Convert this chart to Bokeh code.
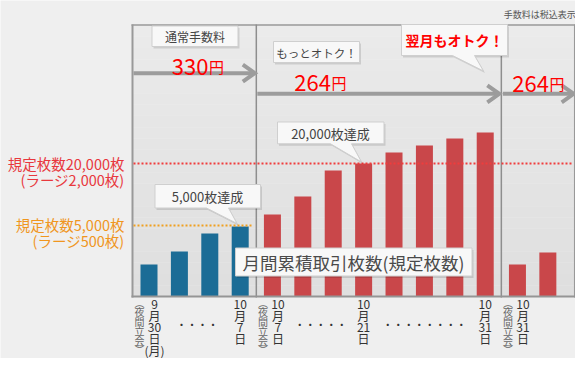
from bokeh.plotting import figure
from bokeh.models import Range1d, ColumnDataSource
from bokeh.core.properties import value
from bokeh.embed import file_html
from bokeh.resources import INLINE

# ---------------- data ----------------
# relative bar heights (chart is not to scale, as in the original)
normal_heights = [32, 45, 63, 70]                          # 9/30 night .. 10/7 day
discount_heights = [82, 100, 126, 133, 144, 151, 158, 164]  # 10/7 night .. 10/31
next_month_heights = [32, 44]                              # 10/31 night ..
level_5000 = 71
level_20000 = 133
label_5000 = ["規定枚数5,000枚", "(ラージ500枚)"]
label_20000 = ["規定枚数20,000枚", "(ラージ2,000枚)"]
period_titles = ["通常手数料", "もっとオトク！", "翌月もオトク！"]
period_prices = ["330", "264", "264"]
achieved_5000 = "5,000枚達成"
achieved_20000 = "20,000枚達成"
series_title = "月間累積取引枚数(規定枚数)"
tax_note = "手数料は税込表示"
tick_bars = [0, 3, 4, 7, 11, 12]
tick_dates = [["9", "月", "30", "日", "(月)"],
              ["10", "月", "7", "日"],
              ["10", "月", "7", "日"],
              ["10", "月", "21", "日"],
              ["10", "月", "31", "日"],
              ["10", "月", "31", "日"]]
tick_night = [True, False, True, False, False, True]
night_chars = ["︵", "夜", "間", "立", "会", "︶"]
ellipsis_after_tick = [0, 2, 3]
ellipsis_counts = [4, 5, 8]

FONT = value("Noto Sans CJK JP")

# ---------------- layout helpers (pixel -> data) ----------------
W, H = 575, 358
PX0, PXS, BASE = 148.5, 30.4, 296.0
def X(px): return (px - PX0) / PXS
def Y(py): return BASE - py
def PXx(x): return PX0 + x * PXS

groups = [normal_heights, discount_heights, next_month_heights]
xs, tops, colors = [], [], []
slot = 0
for g, vals in enumerate(groups):
    for v in vals:
        xs.append(slot + 0.06 * g)
        tops.append(v)
        colors.append("#1b6c96" if g == 0 else "#c9474a")
        slot += 1

div1 = (xs[len(normal_heights) - 1] + xs[len(normal_heights)]) / 2
n2 = len(normal_heights) + len(discount_heights)
div2 = (xs[n2 - 1] + xs[n2]) / 2

p = figure(width=W, height=H, output_backend="svg", toolbar_location=None,
           x_range=Range1d(X(0), X(W)), y_range=Range1d(Y(H), Y(0)),
           x_axis_type=None, y_axis_type=None, min_border=0)
p.background_fill_color = "#efefef"
p.border_fill_color = "#efefef"
p.outline_line_color = None
p.grid.visible = False

RB = 574.2  # right border
# plot area gradient
L, R, T, B = 132, RB, 25, 296
nb = 24
for i in range(nb):
    y0 = T + (B - T) * i / nb
    y1 = T + (B - T) * (i + 1) / nb
    c = int(235 - 12 * i / (nb - 1))
    p.quad(left=X(L), right=X(R), top=Y(y0), bottom=Y(y1) - 0.01,
           fill_color="#%02x%02x%02x" % (c, c, c), line_color=None)

# frame lines
frame_col = "#999999"
p.line([X(131), X(RB + 1)], [Y(24.5), Y(24.5)], line_color=frame_col, line_width=1.5)
p.line([X(132), X(132)], [Y(24), Y(297)], line_color=frame_col, line_width=2)
p.line([div1, div1], [Y(24), Y(297)], line_color="#8e8e8e", line_width=1.5)
p.line([div2, div2], [Y(24), Y(297)], line_color="#8e8e8e", line_width=1.5)
p.line([X(RB), X(RB)], [Y(24), Y(297)], line_color=frame_col, line_width=1.5)

# bars
src = ColumnDataSource(dict(x=xs, top=tops, color=colors))
p.vbar(x="x", top="top", bottom=0, width=17 / PXS, fill_color="color",
       line_color=None, source=src)

# baseline
p.line([X(131), X(RB + 1)], [0, 0], line_color="#959595", line_width=2)

# arrows
arrow_col = "#9c9c9c"
arrows = [(133, PXx(div1) - 1.5, 72.7), (PXx(div1) + 1, PXx(div2) - 2, 93.3),
          (PXx(div2) + 1.5, RB - 1, 93.3)]
for a0, a1, ay in arrows:
    p.line([X(a0), X(a1 - 2)], [Y(ay), Y(ay)], line_color=arrow_col, line_width=4)
    p.line([X(a1 - 12), X(a1), X(a1 - 12)], [Y(ay - 8.5), Y(ay), Y(ay + 8.5)],
           line_color=arrow_col, line_width=4, line_join="miter")

# threshold dotted lines
p.line([X(133), X(RB - 2)], [level_20000, level_20000], line_color="#f03c3c",
       line_width=2, line_dash="2 2")
p.line([X(133), X(253)], [level_5000, level_5000], line_color="#f0a020",
       line_width=2, line_dash="2 2")

# callout helper
def callout(x0, y0, x1, y1, tail=None, fill="#f8f8f8"):
    pts = [(x0, y0), (x1, y0), (x1, y1)]
    if tail:
        tl, tr, tx, ty = tail
        pts += [(tr, y1), (tx, ty), (tl, y1)]
    pts += [(x0, y1)]
    sx = [X(px + 1.5) for px, _ in pts]
    sy = [Y(py + 2) for _, py in pts]
    p.patch(sx, sy, fill_color="#000000", fill_alpha=0.12, line_color=None)
    p.patch([X(px) for px, _ in pts], [Y(py) for _, py in pts],
            fill_color=fill, line_color="#cfcfcf", line_width=1)

callout(151.5, 25.5, 237.5, 46)
callout(273, 41, 359, 62)
callout(401, 24, 507, 55, tail=(452, 474, 483, 70.5))
callout(154.5, 184, 260, 207.5, tail=(206, 228, 236.5, 223))
callout(277, 121.5, 383.5, 143.3, tail=(330, 351, 361, 161.5))
callout(235, 247.5, 471.5, 275.5)

def txt(x, y, s, size, color, align="center", baseline="middle", style="normal"):
    p.text(x=[X(x)], y=[Y(y)], text=[s], text_font=FONT, text_font_size=value(size),
           text_color=color, text_align=align, text_baseline=baseline,
           text_font_style=style)

# period titles & prices
txt(194.5, 36, period_titles[0], "12px", "#444444")
txt(316, 52, period_titles[1], "11.5px", "#444444")
txt(454, 39.5, period_titles[2], "14px", "#ff0000", style="bold")
price_pos = [(208, 66), (330.5, 82), (548.5, 83)]
for (px, py), s in zip(price_pos, period_prices):
    txt(px, py, s, "22px", "#ff0000", align="right", baseline="alphabetic")
    txt(px + 0.5, py, "円", "15px", "#ff0000", align="left", baseline="alphabetic")

txt(RB + 1, 14, tax_note, "9px", "#555555", align="right")

# threshold labels
lab_x = 124
txt(lab_x, BASE - level_20000, label_20000[0], "14.5px", "#e8383d", align="right")
txt(lab_x, BASE - level_20000 + 16, label_20000[1], "14.5px", "#e8383d", align="right")
txt(lab_x, BASE - level_5000 - 1.5, label_5000[0], "14.5px", "#f0961e", align="right")
txt(lab_x, BASE - level_5000 + 15, label_5000[1], "14.5px", "#f0961e", align="right")

# achievements & series title
txt(207, 196, achieved_5000, "13px", "#444444")
txt(330, 132.5, achieved_20000, "13px", "#444444")
txt(353, 262, series_title, "17.5px", "#4a4a4a")

# x tick labels (vertical)
tick_px = []
for b, lines, night in zip(tick_bars, tick_dates, tick_night):
    bx = PXx(xs[b])
    dx = bx + 5.5 if night else bx
    tick_px.append(dx)
    for i, s in enumerate(lines):
        txt(dx, 303.5 + 11.5 * i, s, "12px", "#333333")
    if night:
        nx = bx - 9.5
        for i, s in enumerate(night_chars):
            txt(nx, 302 + 9.4 * i, s, "10px", "#666666")

for t, n in zip(ellipsis_after_tick, ellipsis_counts):
    cx = (tick_px[t] + tick_px[t + 1]) / 2
    txt(cx, 324, "・" * n, "10.5px", "#333333")

open("out.html", "w").write(file_html(p, INLINE))
